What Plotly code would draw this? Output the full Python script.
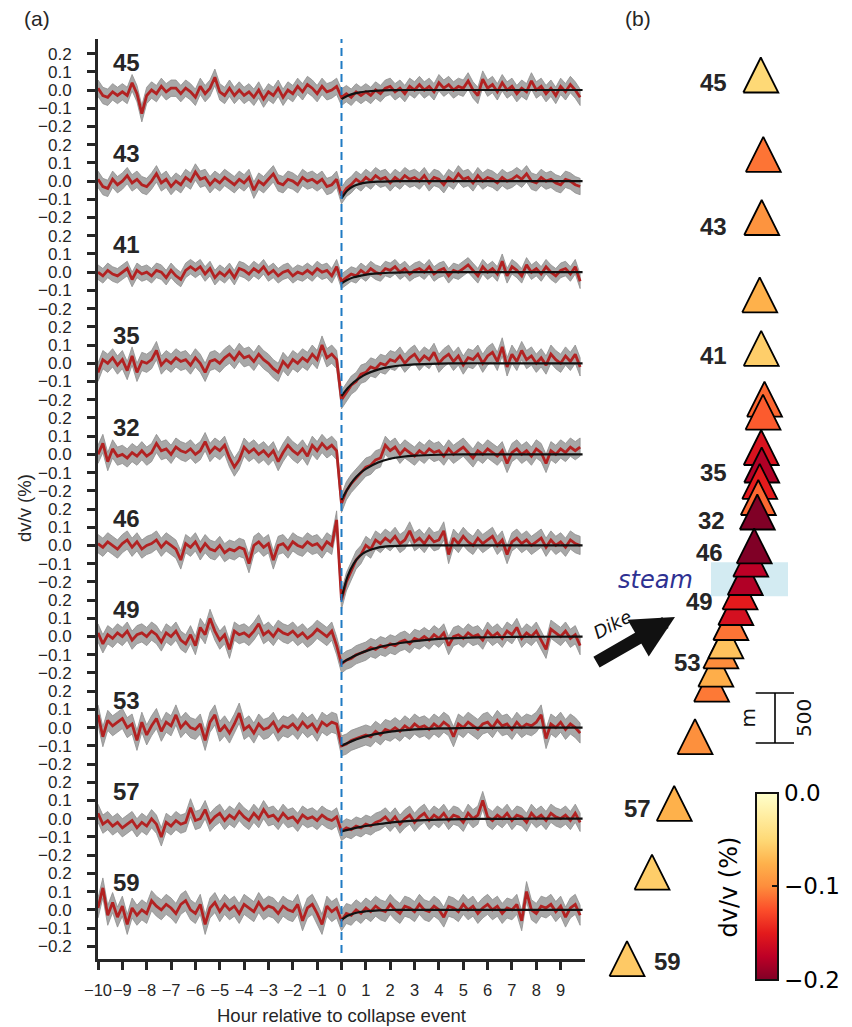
import numpy as np
import plotly.graph_objects as go
import plotly.colors as pc

W, H = 852, 1027

# ---------------- panel (a) data ----------------
stations = ["45", "43", "41", "35", "32", "46", "49", "53", "57", "59"]
hours = np.round(np.arange(-10, 9.9, 0.2), 1)  # 100 samples, -10 ... 9.8 h

dvv_45 = [0.01,-0.03,-0.04,-0.01,-0.03,-0.01,-0.03,0.04,-0.02,-0.13,
          -0.03,0.0,-0.02,0.02,-0.01,0.01,0.01,-0.02,0.01,-0.01,
          -0.04,0.02,-0.02,0.01,0.07,-0.01,-0.03,0.01,-0.03,0.0,
          -0.03,-0.01,-0.04,0.0,-0.05,-0.01,-0.03,0.01,-0.04,0.0,
          -0.02,0.02,-0.01,0.03,0.01,-0.02,0.02,-0.01,0.0,0.02,
          -0.04,-0.02,-0.04,-0.01,-0.03,-0.01,-0.03,0.0,-0.02,0.01,
          0.02,-0.01,0.01,-0.02,0.02,0.0,0.03,0.0,0.02,-0.01,
          0.04,0.01,0.03,0.0,0.02,0.01,0.05,0.0,-0.03,0.06,
          0.01,0.03,-0.01,0.04,0.0,0.02,-0.02,0.01,-0.01,0.05,
          0.0,0.02,-0.02,0.01,-0.03,0.02,-0.01,0.03,0.0,-0.04]
dvv_43 = [0.01,-0.03,-0.04,0.01,-0.02,0.0,0.03,-0.01,0.01,-0.02,
          -0.03,0.0,0.04,-0.01,0.01,-0.03,0.0,-0.02,0.02,0.0,
          0.05,0.01,0.02,-0.02,0.01,-0.01,0.02,0.0,-0.02,0.01,
          -0.01,0.02,-0.05,0.0,-0.02,0.01,0.04,-0.01,-0.02,0.01,
          0.0,-0.02,0.02,0.0,0.01,-0.01,0.01,-0.03,-0.02,0.01,
          -0.08,-0.04,-0.02,0.01,-0.01,0.02,0.0,0.03,0.01,0.02,
          -0.01,0.02,0.0,0.03,0.01,0.02,0.0,0.03,-0.01,0.02,
          0.01,-0.02,0.02,0.0,0.04,0.01,0.02,-0.01,0.03,0.0,
          0.02,0.01,-0.01,0.02,0.0,0.01,0.03,0.01,0.04,0.0,
          -0.01,0.02,0.0,0.01,-0.01,-0.02,0.01,0.0,-0.02,-0.03]
dvv_41 = [0.0,-0.02,0.01,-0.01,-0.02,0.0,0.02,-0.04,0.01,-0.01,
          0.0,-0.02,0.01,0.0,-0.03,0.01,-0.02,-0.04,0.01,0.03,
          0.01,0.03,-0.01,0.02,-0.03,0.0,-0.02,0.01,-0.03,0.02,
          0.01,-0.01,0.02,0.0,0.03,-0.01,0.01,-0.02,0.0,0.01,
          -0.02,0.0,-0.01,0.01,-0.01,0.02,0.0,0.01,-0.02,0.03,
          -0.05,-0.03,-0.01,-0.02,0.01,-0.01,0.02,0.0,-0.01,0.02,
          0.01,0.03,0.0,0.02,-0.01,0.01,0.02,0.0,0.03,-0.01,
          0.01,0.02,-0.02,0.01,0.0,0.02,0.04,0.01,-0.02,0.03,
          0.0,0.02,-0.01,0.06,-0.02,0.03,0.01,-0.02,0.04,0.0,
          0.02,-0.01,0.03,0.0,-0.02,0.01,0.02,-0.01,0.03,-0.05]
dvv_35 = [-0.05,0.02,0.0,0.03,-0.01,0.02,-0.04,0.04,-0.05,0.01,
          0.0,0.02,0.07,-0.01,0.02,0.0,0.03,0.01,0.02,-0.01,
          0.03,0.0,-0.05,0.01,0.02,0.0,0.03,0.05,0.02,0.06,
          0.03,0.04,0.01,0.05,0.02,0.0,-0.03,-0.05,0.01,-0.02,
          0.02,0.0,0.03,0.01,0.05,0.02,0.1,0.03,0.05,0.02,
          -0.2,-0.16,-0.12,-0.1,-0.06,-0.05,-0.02,-0.03,0.0,-0.01,
          0.02,0.01,0.04,0.0,0.03,0.05,0.01,0.04,0.02,0.06,
          0.0,0.03,0.05,0.01,0.04,-0.01,0.03,0.02,0.05,0.0,
          0.04,0.06,0.01,0.09,-0.02,0.05,0.01,0.07,0.02,0.04,
          0.0,0.03,-0.01,0.05,0.02,0.0,0.04,0.01,0.05,-0.02]
dvv_32 = [0.0,0.06,-0.04,0.03,-0.01,0.0,-0.02,0.01,-0.01,0.02,
          -0.01,0.01,0.06,0.02,0.03,0.0,0.04,0.02,0.01,0.03,
          0.0,0.02,0.07,0.01,0.04,0.02,0.05,-0.02,-0.07,-0.03,
          0.04,0.01,0.03,0.0,0.02,-0.01,0.02,-0.04,0.01,0.05,
          0.02,0.0,0.03,-0.01,0.05,0.02,0.06,0.03,0.05,0.02,
          -0.27,-0.2,-0.16,-0.13,-0.1,-0.07,-0.06,-0.03,-0.02,0.05,
          0.02,0.04,0.0,0.03,0.01,-0.01,0.02,0.0,0.03,0.01,
          0.02,-0.01,0.03,0.0,0.02,0.04,0.01,-0.02,0.02,0.0,
          0.03,0.01,-0.01,0.02,-0.05,0.01,0.03,0.0,0.02,-0.01,
          0.03,0.01,-0.05,0.02,0.0,0.03,0.01,0.04,0.02,0.04]
dvv_46 = [0.01,-0.01,0.02,0.0,-0.02,0.01,0.03,-0.01,0.02,-0.02,
          0.0,0.01,0.03,-0.01,0.02,0.0,-0.02,-0.08,0.01,-0.01,
          0.02,-0.03,0.01,-0.02,-0.03,0.0,-0.04,-0.02,-0.03,-0.01,
          -0.02,-0.1,0.0,0.02,-0.01,0.01,-0.08,0.0,0.01,-0.02,
          0.02,0.0,-0.01,0.02,0.0,0.01,-0.02,0.02,0.0,0.14,
          -0.3,-0.2,-0.14,-0.08,-0.05,0.0,-0.02,0.03,0.01,0.04,
          0.02,0.05,0.01,0.03,0.08,0.02,0.04,0.01,0.05,0.02,
          0.03,0.08,-0.05,0.04,0.01,0.05,0.02,0.0,0.04,0.01,
          0.03,0.05,0.0,0.03,-0.05,0.02,0.04,0.01,0.03,0.0,
          0.02,0.04,-0.01,0.03,0.0,0.02,-0.01,0.03,0.01,0.0]
dvv_49 = [0.02,-0.04,0.01,-0.01,0.02,0.0,0.03,-0.02,0.01,0.02,
          0.0,0.03,0.01,-0.03,0.02,0.0,0.03,-0.02,-0.04,0.01,
          -0.05,0.05,0.01,0.1,0.03,-0.02,0.01,-0.07,0.03,0.01,
          0.02,0.0,0.03,0.07,0.01,0.03,0.0,0.04,0.02,0.01,
          0.03,0.0,0.02,-0.01,0.01,0.04,0.02,0.0,0.03,-0.05,
          -0.15,-0.13,-0.12,-0.1,-0.09,-0.08,-0.06,-0.07,-0.05,-0.06,
          -0.04,-0.05,-0.03,-0.02,-0.04,-0.01,-0.02,0.0,-0.02,0.01,
          -0.01,0.02,-0.05,0.0,0.01,-0.01,0.02,0.0,0.01,-0.02,
          0.03,0.0,0.02,-0.01,0.03,0.01,0.05,-0.01,0.02,0.0,
          0.03,-0.02,-0.07,0.04,0.02,0.0,0.03,-0.01,0.01,-0.05]
dvv_53 = [0.07,-0.05,0.04,0.01,0.03,0.05,0.0,0.02,-0.07,0.03,
          -0.04,0.01,0.05,-0.02,0.03,0.01,0.07,0.0,0.03,0.0,
          -0.01,0.02,-0.07,0.03,0.07,-0.02,0.01,-0.03,0.02,0.08,
          -0.01,0.01,-0.03,0.02,-0.01,0.0,0.03,-0.02,0.01,0.0,
          0.02,-0.01,0.03,0.0,0.02,-0.02,0.03,0.01,0.03,0.02,
          -0.1,-0.09,-0.07,-0.06,-0.05,-0.04,-0.05,-0.02,-0.04,-0.01,
          -0.02,0.0,-0.02,0.01,-0.01,0.02,0.0,0.01,-0.01,0.02,
          0.0,0.03,0.01,-0.05,0.02,0.0,0.03,0.01,-0.01,0.02,
          0.03,0.0,0.04,0.01,0.02,-0.01,0.03,0.0,0.02,0.01,
          0.03,0.07,-0.06,0.02,0.0,0.03,-0.01,0.02,0.0,-0.03]
dvv_57 = [0.03,-0.03,-0.01,-0.04,-0.02,-0.05,-0.03,-0.01,-0.05,-0.02,
          -0.04,0.0,-0.03,-0.1,-0.02,-0.04,-0.01,-0.03,-0.02,0.06,
          -0.01,0.0,0.05,-0.02,0.01,0.03,-0.01,0.02,0.0,0.04,
          0.01,-0.01,0.03,0.0,0.05,0.01,0.02,-0.01,0.03,0.0,
          0.01,-0.02,0.02,0.0,0.01,-0.01,0.02,0.0,-0.01,0.01,
          -0.07,-0.05,-0.06,-0.04,-0.05,-0.03,-0.04,-0.02,-0.01,0.01,
          -0.02,0.01,-0.03,0.0,0.02,-0.02,0.01,0.03,-0.01,0.02,
          0.0,0.03,-0.01,0.02,0.01,-0.02,0.03,0.0,0.02,0.1,
          0.01,-0.01,0.02,0.0,0.03,-0.01,0.02,0.01,-0.02,0.03,
          0.0,0.02,-0.01,0.03,0.01,0.0,0.02,-0.01,0.03,-0.02]
dvv_59 = [0.01,0.12,-0.03,0.04,-0.04,0.02,-0.08,0.01,-0.03,0.0,
          -0.02,0.05,0.02,0.0,0.03,0.01,-0.02,0.03,0.05,0.0,
          -0.02,0.03,-0.08,0.01,0.04,-0.01,0.03,0.0,0.02,-0.02,
          0.03,0.01,-0.01,0.04,0.0,0.02,0.01,-0.02,0.02,0.0,
          -0.01,0.03,-0.06,0.01,0.03,-0.02,-0.08,0.02,-0.01,0.01,
          -0.06,-0.02,-0.03,0.0,-0.02,0.01,-0.01,0.02,0.0,-0.01,
          0.03,0.0,-0.02,0.02,0.01,-0.01,0.03,0.0,-0.01,0.02,
          0.0,-0.04,0.02,0.01,-0.01,0.03,0.0,0.02,-0.02,0.01,
          0.03,0.0,0.02,-0.02,0.01,0.0,0.03,-0.06,0.1,0.0,
          -0.02,0.02,0.01,0.03,-0.01,0.02,-0.04,0.01,0.03,-0.03]
series = [dvv_45, dvv_43, dvv_41, dvv_35, dvv_32, dvv_46, dvv_49, dvv_53, dvv_57, dvv_59]
band_halfwidth = [0.045, 0.045, 0.04, 0.05, 0.05, 0.05, 0.05, 0.055, 0.05, 0.055]

fit_hours = [0, 0.25, 0.5, 0.75, 1, 1.5, 2, 2.5, 3, 4, 5, 6, 8, 9.9]
fit_45 = [-0.05, -0.032, -0.02, -0.013, -0.008, -0.003, -0.001, 0, 0, 0, 0, 0, 0, 0]
fit_43 = [-0.095, -0.05, -0.027, -0.015, -0.008, -0.003, -0.001, 0, 0, 0, 0, 0, 0, 0]
fit_41 = [-0.062, -0.042, -0.028, -0.02, -0.013, -0.006, -0.003, -0.001, 0, 0, 0, 0, 0, 0]
fit_35 = [-0.18, -0.137, -0.104, -0.08, -0.06, -0.035, -0.02, -0.011, -0.006, -0.002, 0, 0, 0, 0]
fit_32 = [-0.25, -0.19, -0.14, -0.105, -0.08, -0.045, -0.024, -0.013, -0.007, -0.002, 0, 0, 0, 0]
fit_46 = [-0.29, -0.17, -0.1, -0.058, -0.034, -0.012, -0.004, -0.001, 0, 0, 0, 0, 0, 0]
fit_49 = [-0.146, -0.126, -0.108, -0.093, -0.08, -0.06, -0.045, -0.034, -0.025, -0.013, -0.007, -0.004, -0.001, 0]
fit_53 = [-0.1, -0.084, -0.07, -0.058, -0.048, -0.033, -0.022, -0.015, -0.01, -0.004, -0.002, -0.001, 0, 0]
fit_57 = [-0.07, -0.061, -0.053, -0.046, -0.04, -0.03, -0.021, -0.015, -0.01, -0.005, -0.002, -0.001, 0, 0]
fit_59 = [-0.055, -0.033, -0.02, -0.012, -0.008, -0.003, -0.001, 0, 0, 0, 0, 0, 0, 0]
fits = [fit_45, fit_43, fit_41, fit_35, fit_32, fit_46, fit_49, fit_53, fit_57, fit_59]

ytick_levels = [0.2, 0.1, 0.0, -0.1, -0.2]
ytick_labels = ["0.2", "0.1", "0.0", "\u22120.1", "\u22120.2"]
xtick_vals = list(range(-10, 10))
xtick_labels = ["\u221210", "\u22129", "\u22128", "\u22127", "\u22126", "\u22125", "\u22124",
                "\u22123", "\u22122", "\u22121", "0", "1", "2", "3", "4", "5", "6", "7", "8", "9"]

# ---------------- panel (b) data ----------------
map_east = [1708, 1733, 1717, 1697, 1712, 1745, 1730, 1712, 1717, 1697, 1683, 1673, 1642,
            1607, 1552, 1500, 1458, 1408, 1358, 1308, 1258, 1215, 1050, 842, 620, 370]
map_north = [9250, 8457, 7825, 7052, 6517, 6008, 5878, 5525, 5350, 5187, 5025, 4880, 4542,
             4408, 4225, 4082, 3925, 3775, 3592, 3492, 3308, 3158, 2633, 1967, 1278, 413]
map_dvv = [-0.05, -0.11, -0.095, -0.076, -0.057, -0.115, -0.12, -0.157, -0.18, -0.15, -0.115, -0.2, -0.2,
           -0.175, -0.18, -0.15, -0.16, -0.11, -0.065, -0.1, -0.078, -0.108, -0.098, -0.076, -0.058, -0.06]
map_labels = ["45", "43", "41", "35", "32", "46", "49", "53", "57", "59"]
map_label_east = [1230, 1235, 1235, 1230, 1215, 1195, 1095, 970, 475, 770]
map_label_north = [9170, 7730, 6440, 5270, 4793, 4480, 3983, 3373, 1920, 383]
cbar_ticks = [-0.2, -0.1, 0.0]
cbar_ticktext = ["\u22120.2", "\u22120.1", "0.0"]

assert all(len(s) == len(hours) for s in series)

# ---------------- helpers ----------------
def px_x(p):
    return p / W

def px_y(p):
    return 1 - p / H

SANS = "Liberation Sans, Arial, sans-serif"
DJV = "DejaVu Sans, sans-serif"
INK = "#262626"
panel_gap = 0.5

fig = go.Figure()

# panel (a)
for i, (name, vals, err, fv) in enumerate(zip(stations, series, band_halfwidth, fits)):
    off = -panel_gap * i
    v = np.array(vals)
    upper = v + err + off
    lower = v - err + off
    fig.add_trace(go.Scatter(
        x=np.concatenate([hours, hours[::-1]]), y=np.concatenate([upper, lower[::-1]]),
        fill="toself", fillcolor="#a8a8a8", line=dict(color="#8e8e8e", width=0.8),
        mode="lines", hoverinfo="skip", showlegend=False))
    fig.add_trace(go.Scatter(
        x=hours, y=v + off, mode="lines", line=dict(color="#b22222", width=2.8),
        showlegend=False, name=name))
    fig.add_trace(go.Scatter(
        x=fit_hours, y=np.array(fv) + off, mode="lines",
        line=dict(color="#111111", width=2.2, shape="spline", smoothing=0.8),
        showlegend=False))

ytickvals = [-panel_gap * i + lv for i in range(len(stations)) for lv in ytick_levels]
yticktext = ytick_labels * len(stations)

# panel (b): triangles
h = 175
ys_top = list(range(0, 13))
ys_bottom = list(range(len(map_east) - 1, 12, -1))
draw_order = ys_bottom + ys_top
scale = pc.make_colorscale(list(reversed(pc.sequential.YlOrRd)))
for j in draw_order:
    cx, cy = map_east[j], map_north[j]
    col = pc.sample_colorscale(scale, [(map_dvv[j] + 0.2) / 0.2])[0]
    fig.add_trace(go.Scatter(
        x=[cx - h, cx + h, cx, cx - h], y=[cy - h, cy - h, cy + h, cy - h],
        xaxis="x2", yaxis="y2", mode="lines", fill="toself", fillcolor=col,
        line=dict(color="#000000", width=1.8), showlegend=False, hoverinfo="skip"))

# colorbar carrier
fig.add_trace(go.Scatter(
    x=map_east, y=map_north, xaxis="x2", yaxis="y2", mode="markers",
    marker=dict(size=1, opacity=0, color=map_dvv, colorscale=scale, cmin=-0.2, cmax=0.0,
                showscale=True,
                colorbar=dict(x=px_x(755.7), xanchor="left", y=px_y(886.4), yanchor="middle",
                              len=187.3 / H, lenmode="fraction", thickness=21.6, thicknessmode="pixels",
                              outlinewidth=2, outlinecolor="#111111", ticks="inside", ticklen=7,
                              tickwidth=1.5, tickcolor="#111111", tickvals=cbar_ticks,
                              ticktext=cbar_ticktext, tickfont=dict(family=DJV, size=23, color="#000000"),
                              xpad=0, ypad=0, borderwidth=0)),
    showlegend=False, hoverinfo="skip"))

shapes = [
    dict(type="line", xref="x", yref="y domain", x0=0, x1=0, y0=(959 - 953) / 920, y1=1.0,
         line=dict(color="#1f7bc4", width=2, dash="8px,5px"), layer="above"),
    # steam box
    dict(type="rect", xref="x2", yref="y2", x0=1210, x1=1980, y0=4037, y1=4377,
         fillcolor="#d3ebf2", line=dict(width=0), layer="below"),
    # scale bar
    dict(type="line", xref="x2", yref="y2", x0=1850, x1=1850, y0=2570, y1=3070,
         line=dict(color="#000", width=1.6)),
    dict(type="line", xref="x2", yref="y2", x0=1657, x1=2040, y0=2570, y1=2570,
         line=dict(color="#000", width=1.6)),
    dict(type="line", xref="x2", yref="y2", x0=1657, x1=2040, y0=3070, y1=3070,
         line=dict(color="#000", width=1.6)),
]

ann = []
for i, name in enumerate(stations):
    ann.append(dict(x=-9.45, y=-panel_gap * i + 0.15, xref="x", yref="y", text=name, showarrow=False,
                    xanchor="left", yanchor="middle", font=dict(family=SANS, size=24, color=INK,
                                                                 weight="bold")))
for t, e, n in zip(map_labels, map_label_east, map_label_north):
    ann.append(dict(x=e, y=n, xref="x2", yref="y2", text=t, showarrow=False, xanchor="center",
                    yanchor="middle", font=dict(family=SANS, size=24, color=INK, weight="bold")))


def note(px, py, text, size, family=SANS, color=INK, angle=0):
    return dict(x=px_x(px), y=px_y(py), xref="paper", yref="paper", text=text, showarrow=False,
                xanchor="center", yanchor="middle", textangle=angle,
                font=dict(family=family, size=size, color=color))


ann += [
    note(37, 19, "(a)", 21),
    note(638, 19, "(b)", 21),
    note(341.5, 1015, "Hour relative to collapse event", 18.5),
    note(25, 508, "dv/v (%)", 18.5, angle=-90),
    note(655, 580, "<i>steam</i>", 24, family=DJV, color="#2e3192"),
    note(612, 624, "<i>Dike</i>", 18, family=DJV, color="#111111", angle=-28),
    note(747.5, 718, "m", 20, family=DJV, color="#111111", angle=-90),
    note(804, 718, "500", 20, family=DJV, color="#111111", angle=-90),
    note(728.5, 887, "dv/v (%)", 24, family=DJV, color="#000000", angle=-90),
    dict(x=px_x(675), y=px_y(617), xref="paper", yref="paper", text="", showarrow=True,
         ax=-80, ay=46, arrowhead=2, arrowsize=0.68, arrowwidth=12.5, arrowcolor="#111111", standoff=0),
]

fig.update_layout(
    width=W, height=H, autosize=False,
    margin=dict(l=0, r=0, t=0, b=0, autoexpand=False),
    paper_bgcolor="white", plot_bgcolor="white",
    showlegend=False,
    xaxis=dict(domain=[px_x(98), px_x(585)], range=[-10, 10], tickvals=xtick_vals, ticktext=xtick_labels,
               ticks="outside", ticklen=8, tickwidth=2.5, tickcolor=INK, showline=True, linewidth=3,
               linecolor=INK, showgrid=False, zeroline=False, ticklabelstandoff=6, tickangle=0,
               automargin=False, tickfont=dict(family=SANS, size=16.5, color=INK), anchor="y"),
    yaxis=dict(domain=[px_y(959), px_y(39)], range=[-4.77, 0.28], tickvals=ytickvals, ticktext=yticktext,
               ticks="outside", ticklen=8, tickwidth=2.5, tickcolor=INK, showline=True, linewidth=3,
               linecolor=INK, showgrid=False, zeroline=False, ticklabelstandoff=12,
               automargin=False, tickfont=dict(family=SANS, size=17, color=INK), anchor="x"),
    xaxis2=dict(domain=[px_x(590), 1.0], range=[0, 2620], visible=False, anchor="y2", automargin=False),
    yaxis2=dict(domain=[px_y(1000), px_y(40)], range=[0, 9600], visible=False, anchor="x2", automargin=False),
    shapes=shapes,
    annotations=ann,
)

fig.write_html("out.html", config={"displayModeBar": False},
               post_script="document.body.style.margin='0px';")
